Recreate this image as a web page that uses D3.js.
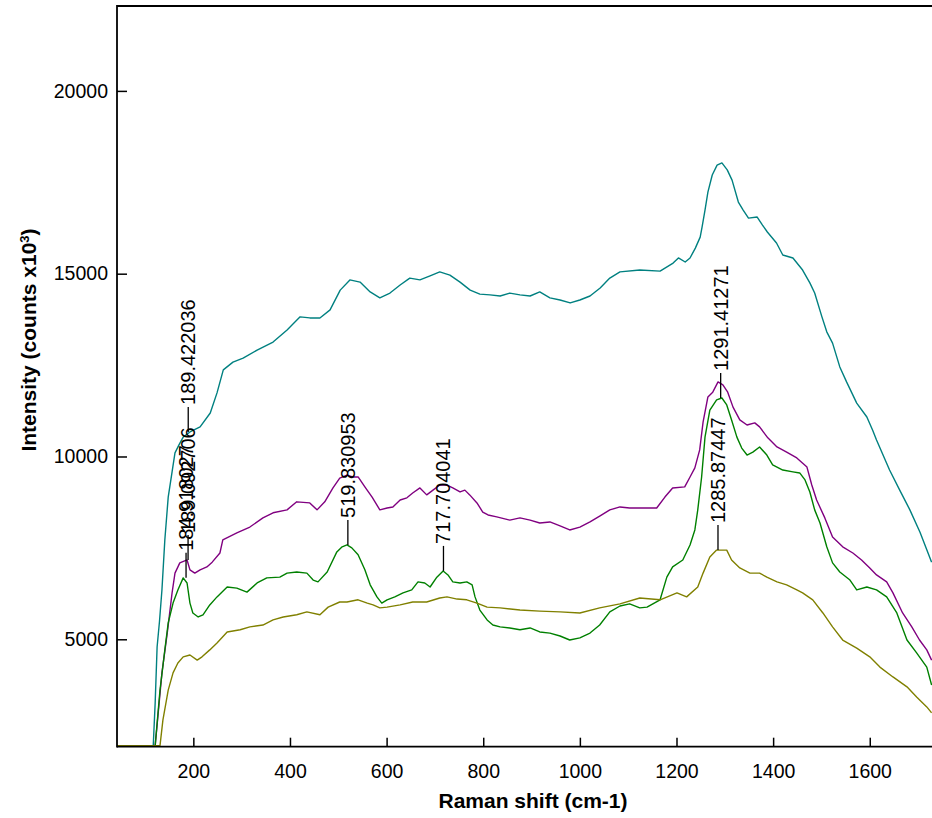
<!DOCTYPE html>
<html>
<head>
<meta charset="utf-8">
<script src="https://cdn.jsdelivr.net/npm/d3@7"></script>
<style>
  body { margin: 0; background: #ffffff; }
  svg { display: block; font-family: Arial, "Liberation Sans", sans-serif; }
</style>
</head>
<body>
<svg id="chart" width="932" height="818"></svg>
<script>
// ---------- data ----------
const xTicks = [200, 400, 600, 800, 1000, 1200, 1400, 1600];
const yTicks = [5000, 10000, 15000, 20000];
const xTitle = "Raman shift (cm-1)";

// [Raman shift, intensity]
const cyanSpectrum = [
  [42,2090],[117,2090],[121,3260],[125,4790],[130,5500],[135,6350],[141,7720],[148,8890],[156,9580],
  [162,10100],[170,10310],[179,10530],[193,10670],[214,10810],[235,11190],[249,11740],[262,12370],
  [282,12580],[303,12690],[332,12910],[365,13130],[394,13460],[421,13820],[441,13790],[462,13790],
  [483,14010],[504,14550],[524,14830],[545,14770],[566,14500],[586,14340],[607,14470],[628,14690],
  [648,14880],[669,14830],[690,14940],[710,15050],[731,14960],[752,14770],[773,14550],[793,14440],
  [814,14420],[835,14390],[855,14470],[876,14420],[897,14390],[917,14500],[938,14340],[959,14280],
  [980,14200],[1000,14280],[1021,14390],[1042,14610],[1062,14880],[1083,15050],[1124,15100],
  [1166,15070],[1193,15290],[1204,15430],[1218,15320],[1228,15430],[1239,15700],[1249,16000],
  [1253,16280],[1259,16740],[1265,17230],[1274,17700],[1284,17970],[1294,18030],[1305,17840],
  [1315,17560],[1328,16960],[1338,16740],[1349,16520],[1367,16550],[1378,16330],[1388,16140],
  [1407,15840],[1420,15510],[1441,15430],[1461,15100],[1476,14750],[1486,14470],[1501,13820],
  [1511,13410],[1523,13100],[1538,12450],[1552,12040],[1573,11460],[1594,11080],[1606,10720],
  [1614,10450],[1641,9630],[1662,9080],[1683,8540],[1704,7930],[1728,7110]
];
const purpleSpectrum = [
  [42,2090],[121,2090],[135,4080],[146,5170],[156,6270],[162,6810],[172,7090],[187,7170],
  [193,6900],[203,6810],[214,6900],[228,6980],[239,7110],[255,7360],[261,7720],
  [290,7910],[317,8070],[344,8320],[365,8460],[394,8540],[414,8760],[441,8730],[456,8540],[472,8760],
  [489,9140],[503,9410],[518,9490],[530,9440],[541,9440],[555,9170],[570,8890],[586,8540],[601,8590],
  [613,8620],[628,8810],[642,8870],[654,9000],[669,9140],[683,8950],[696,9080],[710,9220],[725,9220],
  [737,9140],[752,9030],[762,9080],[772,8950],[787,8730],[799,8480],[810,8400],[828,8350],[855,8260],
  [876,8320],[897,8260],[917,8180],[938,8210],[959,8100],[979,7990],[1000,8070],[1021,8210],
  [1041,8370],[1062,8540],[1083,8620],[1103,8590],[1124,8590],[1159,8590],[1176,8890],[1192,9140],
  [1217,9170],[1228,9440],[1238,9690],[1248,10180],[1255,10940],[1265,11630],[1275,11760],
  [1286,12040],[1296,11960],[1306,11760],[1317,11350],[1331,11000],[1346,10860],[1362,10920],
  [1372,10810],[1389,10510],[1408,10260],[1428,10120],[1449,9960],[1470,9710],[1480,9220],
  [1490,8810],[1507,8320],[1523,7800],[1544,7530],[1565,7360],[1583,7170],[1600,6950],[1614,6760],
  [1635,6570],[1648,6270],[1668,5720],[1687,5340],[1703,4980],[1718,4710],[1728,4430]
];
const greenSpectrum = [
  [42,2090],[121,2090],[131,3610],[141,4710],[148,5450],[158,5990],[168,6350],[179,6680],[187,6540],
  [193,5990],[199,5720],[210,5610],[220,5670],[234,5940],[249,6160],[270,6430],[290,6400],[311,6290],
  [332,6540],[352,6680],[379,6700],[394,6810],[414,6840],[435,6810],[448,6620],[458,6570],[477,6840],
  [497,7390],[508,7530],[518,7580],[528,7500],[541,7310],[555,6900],[566,6490],[580,6160],
  [590,5990],[601,6080],[617,6160],[634,6270],[652,6350],[665,6570],[679,6540],[690,6430],[704,6700],
  [717,6870],[727,6760],[737,6570],[752,6540],[766,6570],[777,6490],[783,6160],[793,5800],[808,5530],
  [820,5390],[835,5340],[855,5310],[876,5260],[897,5310],[917,5200],[938,5170],[959,5090],[979,4980],
  [1000,5040],[1021,5170],[1041,5390],[1062,5750],[1083,5910],[1103,5970],[1124,5860],[1139,5880],
  [1166,6080],[1180,6700],[1192,6980],[1213,7170],[1228,7580],[1238,7990],[1244,8540],[1252,9440],
  [1259,10530],[1269,11270],[1283,11550],[1294,11600],[1304,11410],[1314,11000],[1325,10530],
  [1335,10230],[1346,10040],[1358,10120],[1372,10260],[1387,10040],[1399,9770],[1420,9630],
  [1441,9580],[1455,9550],[1466,9360],[1476,9030],[1486,8540],[1497,8180],[1511,7530],[1523,7090],
  [1538,6840],[1559,6620],[1573,6350],[1594,6430],[1614,6350],[1635,6160],[1656,5720],[1677,4980],
  [1697,4630],[1718,4240],[1728,3750]
];
const oliveSpectrum = [
  [42,2090],[131,2090],[137,2790],[148,3610],[158,4080],[168,4350],[179,4520],[193,4570],[208,4430],
  [218,4520],[234,4710],[249,4900],[270,5200],[297,5260],[317,5340],[344,5390],[365,5530],[386,5610],
  [414,5670],[435,5750],[462,5670],[479,5880],[503,6020],[518,6020],[541,6080],[560,5990],[572,5940],
  [586,5860],[601,5880],[628,5940],[654,6020],[683,6020],[710,6130],[725,6160],[746,6100],[766,6080],
  [787,5990],[808,5880],[835,5860],[876,5800],[917,5770],[959,5750],[1000,5720],[1041,5860],
  [1083,5970],[1124,6130],[1166,6080],[1201,6270],[1221,6160],[1244,6430],[1255,6810],[1269,7250],
  [1283,7440],[1304,7440],[1314,7170],[1331,6950],[1352,6810],[1372,6810],[1387,6700],[1408,6570],
  [1428,6490],[1449,6350],[1461,6270],[1482,6080],[1503,5720],[1523,5340],[1544,4980],[1573,4760],
  [1600,4520],[1621,4240],[1648,3970],[1677,3700],[1697,3420],[1718,3150],[1728,2990]
];

const seriesNames = ["cyan", "purple", "green", "olive"];
const seriesData = [cyanSpectrum, purpleSpectrum, greenSpectrum, oliveSpectrum];
const seriesColors = ["#008080", "#800080", "#008000", "#808000"];

// peak annotations
const peakLabels = ["184.918027", "189.092706", "189.422036", "519.830953", "717.704041", "1291.41271", "1285.87447"];
const peakShifts = [184.918027, 189.092706, 189.422036, 519.830953, 717.704041, 1291.41271, 1285.87447];
const peakCounts = [6680, 7170, 10670, 7580, 6870, 11600, 7440];

// ---------- layout ----------
const W = 932, H = 818;
const plot = { left: 117, right: 949, top: 6, bottom: 746.7 };

const svg = d3.select("#chart");

const x = d3.scaleLinear().domain([42, 1764]).range([plot.left, plot.right]);
const y = d3.scaleLinear().domain([2062, 22322]).range([plot.bottom, plot.top]);

svg.append("defs").append("clipPath").attr("id", "clip")
  .append("rect")
  .attr("x", plot.left).attr("y", plot.top)
  .attr("width", plot.right - plot.left).attr("height", plot.bottom - plot.top);

// series
const line = d3.line().x(d => x(d[0])).y(d => y(d[1]));
const gSeries = svg.append("g").attr("clip-path", "url(#clip)");
seriesData.forEach((data, i) => {
  gSeries.append("path")
    .datum(data)
    .attr("class", "series " + seriesNames[i])
    .attr("fill", "none")
    .attr("stroke", seriesColors[i])
    .attr("stroke-width", 1.4)
    .attr("stroke-linejoin", "round")
    .attr("d", line);
});

// axes
const xAxis = d3.axisBottom(x).tickValues(xTicks).tickSizeInner(-9).tickSizeOuter(0).tickPadding(17.5)
  .tickFormat(d3.format("d"));
const gx = svg.append("g").attr("transform", `translate(0,${plot.bottom})`).call(xAxis);
gx.select(".domain").remove();
gx.selectAll(".tick line").attr("stroke", "#000").attr("stroke-width", 1.5);
gx.selectAll(".tick text").attr("font-size", "19.5px").attr("fill", "#000")
  .attr("font-family", "Arial, 'Liberation Sans', sans-serif");

const yAxis = d3.axisLeft(y).tickValues(yTicks).tickSizeInner(-10).tickSizeOuter(0).tickPadding(9)
  .tickFormat(d3.format("d"));
const gy = svg.append("g").attr("transform", `translate(${plot.left},0)`).call(yAxis);
gy.select(".domain").remove();
gy.selectAll(".tick line").attr("stroke", "#000").attr("stroke-width", 1.5);
gy.selectAll(".tick text").attr("font-size", "19.5px").attr("fill", "#000")
  .attr("font-family", "Arial, 'Liberation Sans', sans-serif");

// frame (left, top, bottom)
const frame = svg.append("g").attr("stroke", "#000").attr("stroke-width", 1.8).attr("fill", "none");
frame.append("line").attr("x1", plot.left).attr("x2", plot.left).attr("y1", plot.top - 0.9).attr("y2", plot.bottom + 0.9);
frame.append("line").attr("x1", plot.left).attr("x2", W).attr("y1", plot.top).attr("y2", plot.top);
frame.append("line").attr("x1", plot.left).attr("x2", W).attr("y1", plot.bottom).attr("y2", plot.bottom);

// peak labels
const gPeaks = svg.append("g");
peakLabels.forEach((lab, i) => {
  const px = x(peakShifts[i]);
  const py = y(peakCounts[i]);
  gPeaks.append("line")
    .attr("x1", px).attr("x2", px)
    .attr("y1", py).attr("y2", py - 25)
    .attr("stroke", "#000").attr("stroke-width", 1.3);
  gPeaks.append("text")
    .attr("transform", `translate(${px},${py - 27}) rotate(-90)`)
    .attr("text-anchor", "start")
    .attr("dominant-baseline", "central")
    .attr("font-size", "20px")
    .attr("fill", "#000")
    .text(lab);
});

// axis titles
svg.append("text")
  .attr("x", (plot.left + plot.right) / 2)
  .attr("y", 808)
  .attr("text-anchor", "middle")
  .attr("font-size", "21px")
  .attr("font-weight", "bold")
  .attr("fill", "#000")
  .text(xTitle);

const yt = svg.append("text")
  .attr("transform", "translate(36,340) rotate(-90)")
  .attr("text-anchor", "middle")
  .attr("font-size", "21px")
  .attr("font-weight", "bold")
  .attr("fill", "#000");
yt.append("tspan").text("Intensity (counts x10");
yt.append("tspan").attr("baseline-shift", "super").attr("font-size", "13px").text("3");
yt.append("tspan").text(")");
</script>
</body>
</html>
